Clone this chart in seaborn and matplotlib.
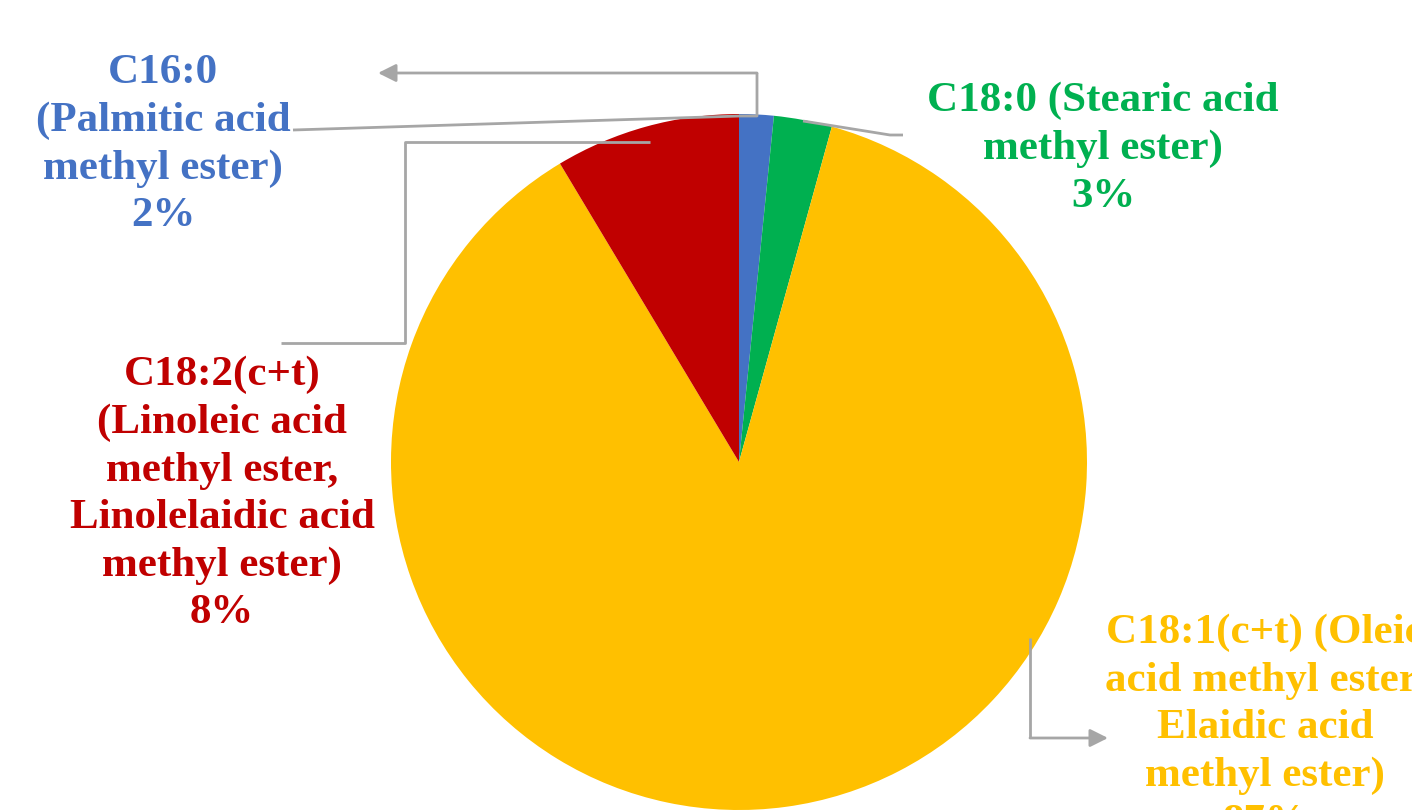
import numpy as np
import matplotlib
matplotlib.use("Agg")
from matplotlib import pyplot as plt
import seaborn as sns

# fatty acid methyl ester composition (%)
names = ["C16:0\n(Palmitic acid\nmethyl ester)",
         "C18:0 (Stearic acid\nmethyl ester)",
         "C18:1(c+t) (Oleic\nacid methyl ester,\nElaidic acid\nmethyl ester)",
         "C18:2(c+t)\n(Linoleic acid\nmethyl ester,\nLinolelaidic acid\nmethyl ester)"]
shares = [1.6, 2.7, 87.1, 8.6]
pct_text = ["2%", "3%", "87%", "8%"]
colors = ["#4472C4", "#00B050", "#FFC000", "#C00000"]

sns.set_theme(style="white")
plt.rcParams['font.family'] = ['Liberation Serif', 'DejaVu Serif']

W, H = 1412, 810
fig = plt.figure(figsize=(W / 100, H / 100), dpi=100)
ax = fig.add_axes([0, 0, 1, 1])


def py(y):
    # image pixel row -> data y
    return H - y


cx, cy, r = 739, 462, 348
ax.pie(shares, colors=colors, startangle=90, counterclock=False,
       center=(cx, py(cy)), radius=r, frame=True,
       wedgeprops=dict(linewidth=0))
ax.set_xlim(0, W)
ax.set_ylim(0, H)
ax.set_aspect("equal")
ax.axis("off")

gray = "#A6A6A6"


def leader(pts, arrow=False):
    xs = [p[0] for p in pts]
    ys = [py(p[1]) for p in pts]
    if arrow:
        ax.plot(xs[:-1], ys[:-1], color=gray, lw=2, solid_capstyle="butt")
        ax.annotate("", xy=(xs[-1], ys[-1]), xytext=(xs[-2], ys[-2]),
                    arrowprops=dict(arrowstyle="-|>,head_length=0.9,head_width=0.45",
                                    color=gray, lw=2, shrinkA=0, shrinkB=0))
    else:
        ax.plot(xs, ys, color=gray, lw=2, solid_capstyle="butt")


# leader lines
leader([(293, 130), (740, 116), (757, 116), (757, 73), (378, 73)], arrow=True)
leader([(803, 121), (890, 135), (903, 135)])
leader([(650, 142), (405, 142), (405, 343), (281, 343)])
leader([(1030, 638), (1030, 738), (1108, 738)], arrow=True)

label_pos = [(163, 54), (1103, 82), (1265, 614), (222, 356)]
fs = 31
for name, pct, col, (x, y) in zip(names, pct_text, colors, label_pos):
    ax.text(x, py(y), name + "\n" + pct, color=col, fontsize=fs,
            fontweight="bold", ha="center", va="top", linespacing=1.32)

fig.savefig("out.png", dpi=100)
